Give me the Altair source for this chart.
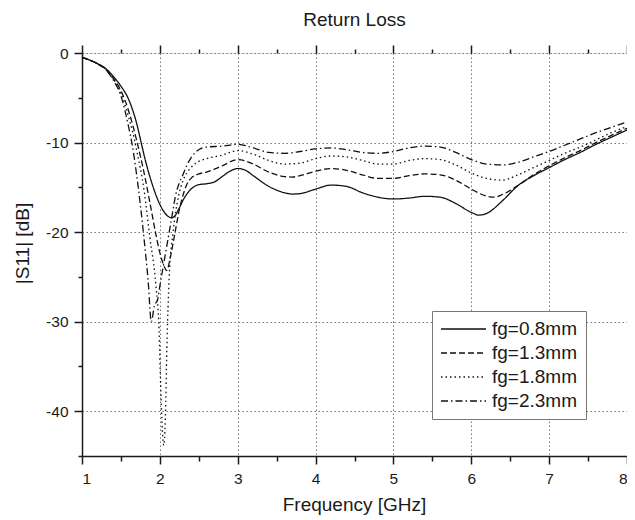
import altair as alt
import pandas as pd

FONT = "Liberation Sans, Arial, Helvetica, sans-serif"

labels = ["fg=0.8mm", "fg=1.3mm", "fg=1.8mm", "fg=2.3mm"]

f_08 = [1.0, 1.1, 1.2, 1.3, 1.4, 1.5, 1.6, 1.7, 1.76, 1.8, 1.9, 2.0, 2.1, 2.15, 2.2, 2.25, 2.3, 2.4, 2.5, 2.6, 2.7, 2.8, 2.9, 3.0, 3.1, 3.2, 3.4, 3.6, 3.7, 3.8, 4.0, 4.2, 4.4, 4.6, 4.8, 5.0, 5.2, 5.4, 5.6, 5.8, 6.0, 6.1, 6.2, 6.4, 6.6, 6.8, 7.0, 7.2, 7.4, 7.6, 7.8, 8.0]
s_08 = [-0.5, -0.8, -1.2, -1.7, -2.6, -3.7, -5.2, -7.8, -10.0, -11.5, -14.6, -16.9, -18.2, -18.4, -18.1, -17.3, -16.4, -15.2, -14.7, -14.6, -14.4, -13.8, -13.2, -12.9, -13.1, -13.7, -14.9, -15.6, -15.75, -15.7, -15.2, -14.75, -14.9, -15.6, -16.1, -16.3, -16.2, -16.0, -16.1, -16.8, -17.8, -18.1, -17.9, -16.5, -14.8, -13.7, -12.8, -11.9, -11.1, -10.2, -9.4, -8.6]

f_13 = [1.0, 1.1, 1.2, 1.3, 1.4, 1.5, 1.6, 1.65, 1.7, 1.8, 1.9, 1.95, 2.0, 2.05, 2.09, 2.13, 2.2, 2.25, 2.3, 2.35, 2.4, 2.5, 2.6, 2.8, 3.0, 3.2, 3.4, 3.6, 3.7, 3.8, 4.0, 4.2, 4.4, 4.6, 4.8, 5.0, 5.2, 5.4, 5.6, 5.8, 6.0, 6.2, 6.3, 6.4, 6.6, 6.8, 7.0, 7.2, 7.4, 7.6, 7.8, 8.0]
s_13 = [-0.5, -0.8, -1.2, -1.8, -2.8, -4.2, -6.5, -8.0, -9.7, -13.5, -18.0, -20.3, -22.3, -23.7, -24.3, -23.0, -19.8, -17.5, -15.8, -14.6, -14.0, -13.5, -13.3, -12.6, -11.9, -12.4, -13.3, -13.8, -13.85, -13.7, -13.2, -12.9, -13.1, -13.6, -14.0, -14.0, -13.7, -13.5, -13.6, -14.2, -15.2, -16.0, -16.1, -15.8, -14.8, -13.6, -12.6, -11.7, -10.9, -10.0, -9.2, -8.4]

f_18 = [1.0, 1.1, 1.2, 1.3, 1.4, 1.5, 1.6, 1.65, 1.7, 1.8, 1.87, 1.95, 1.99, 2.01, 2.04, 2.05, 2.07, 2.09, 2.12, 2.17, 2.24, 2.3, 2.4, 2.5, 2.6, 2.8, 3.0, 3.2, 3.4, 3.6, 3.8, 4.0, 4.2, 4.4, 4.6, 4.8, 5.0, 5.2, 5.4, 5.6, 5.8, 6.0, 6.2, 6.4, 6.6, 6.8, 7.0, 7.2, 7.4, 7.6, 7.8, 8.0]
s_18 = [-0.5, -0.8, -1.2, -1.8, -2.9, -4.5, -7.2, -8.8, -10.8, -15.5, -20.5, -26.0, -31.0, -37.0, -43.2, -43.8, -41.0, -33.0, -25.0, -20.0, -16.0, -14.2, -12.8, -12.1, -11.8, -11.4, -10.9, -11.3, -12.0, -12.4, -12.3, -11.8, -11.5, -11.6, -12.0, -12.4, -12.4, -12.0, -11.8, -11.9, -12.5, -13.4, -14.0, -14.2, -13.6, -12.8, -12.0, -11.2, -10.5, -9.7, -8.9, -8.2]

f_23 = [1.0, 1.1, 1.2, 1.3, 1.4, 1.5, 1.6, 1.65, 1.7, 1.75, 1.8, 1.85, 1.89, 1.93, 1.97, 2.0, 2.05, 2.1, 2.15, 2.2, 2.3, 2.4, 2.5, 2.6, 2.8, 3.0, 3.2, 3.4, 3.6, 3.8, 4.0, 4.2, 4.4, 4.6, 4.8, 5.0, 5.2, 5.4, 5.6, 5.8, 6.0, 6.2, 6.4, 6.6, 6.8, 7.0, 7.2, 7.4, 7.6, 7.8, 8.0]
s_23 = [-0.5, -0.8, -1.2, -1.8, -3.0, -4.8, -8.3, -10.5, -13.5, -17.0, -21.0, -25.5, -30.0, -28.2, -27.6, -26.0, -23.5, -21.0, -18.5, -16.0, -13.5, -11.7, -10.8, -10.5, -10.4, -10.2, -10.6, -11.1, -11.2, -11.0, -10.7, -10.6, -10.8, -11.1, -11.2, -11.0, -10.6, -10.4, -10.5, -11.1, -11.9, -12.4, -12.5, -12.2, -11.6, -11.0, -10.3, -9.6, -8.9, -8.3, -7.7]

x_major = [1, 2, 3, 4, 5, 6, 7, 8]
x_minor = [1.5, 2.5, 3.5, 4.5, 5.5, 6.5, 7.5]
y_major = [0, -10, -20, -30, -40]
y_minor = [-5, -15, -25, -35, -45]

rows = []
for lab, fs, ss in zip(labels, [f_08, f_13, f_18, f_23], [s_08, s_13, s_18, s_23]):
    for a, b in zip(fs, ss):
        rows.append({"series": lab, "f": a, "db": b})
df = pd.DataFrame(rows)

xs = alt.Scale(domain=[1, 8], nice=False, zero=False)
ys = alt.Scale(domain=[-45, 0], nice=False, zero=False)

common_axis = dict(labelFont=FONT, titleFont=FONT, labelColor="#1a1a1a", titleColor="#1a1a1a",
                   tickColor="#1a1a1a", domainColor="#1a1a1a", tickWidth=1.5, domainWidth=1.5)

x_main = alt.Axis(values=x_major, tickSize=8, labelPadding=7, labelFontSize=15.5,
                  grid=True, gridDash=[1.5, 2.5], gridColor="#777777", gridWidth=1,
                  title="Frequency [GHz]", titleFontSize=19, titleFontWeight="normal",
                  titleX=272, titleY=48, titleBaseline="middle", orient="bottom", **common_axis)
y_main = alt.Axis(values=y_major, tickSize=8, labelPadding=6, labelFontSize=15.5,
                  labelExpr="'' + datum.value",
                  grid=True, gridDash=[1.5, 2.5], gridColor="#777777", gridWidth=1,
                  title="|S11| [dB]", titleFontSize=19, titleFontWeight="normal",
                  titleX=-60, titleY=190, titleAngle=270, titleBaseline="middle", orient="left", **common_axis)

lines = alt.Chart(df).mark_line(color="#111111", strokeWidth=1.3, interpolate="monotone").encode(
    x=alt.X("f:Q", scale=xs, axis=x_main),
    y=alt.Y("db:Q", scale=ys, axis=y_main),
    strokeDash=alt.StrokeDash(
        "series:N",
        scale=alt.Scale(domain=labels, range=[[1, 0], [6, 3], [1.5, 3], [7, 3, 1.5, 3]]),
        legend=alt.Legend(orient="none", legendX=350, legendY=258, title=None,
                          labelFont=FONT, labelFontSize=19, labelColor="#1a1a1a",
                          symbolType="stroke", symbolSize=2025, symbolStrokeWidth=1.3,
                          symbolStrokeColor="#111111", clipHeight=20, rowPadding=4,
                          padding=8, labelOffset=5, strokeColor="#777777", fillColor="white"),
    ),
)

def ghost(xaxis, yaxis):
    return alt.Chart(df).mark_line(opacity=0).encode(
        x=alt.X("f:Q", scale=xs, axis=xaxis),
        y=alt.Y("db:Q", scale=ys, axis=yaxis),
        detail="series:N",
    )

minor_bl = ghost(
    alt.Axis(orient="bottom", values=x_minor, tickSize=5, labels=False, grid=False, domain=False, title=None,
             tickColor="#1a1a1a", tickWidth=1.5),
    alt.Axis(orient="left", values=y_minor, tickSize=4, labels=False, grid=False, domain=False, title=None,
             tickColor="#1a1a1a", tickWidth=1.5),
)
top_major = ghost(
    alt.Axis(orient="top", values=x_major, tickSize=8, labels=False, grid=False, domain=False, title=None,
             tickColor="#1a1a1a", tickWidth=1.5),
    None,
)
top_minor = ghost(
    alt.Axis(orient="top", values=x_minor, tickSize=4, labels=False, grid=False, domain=False, title=None,
             tickColor="#1a1a1a", tickWidth=1.5),
    None,
)

chart = alt.layer(lines, minor_bl, top_major, top_minor).resolve_axis(
    x="independent", y="independent"
).properties(
    width=545, height=403,
    padding={"left": 74, "top": 45, "right": 0, "bottom": 60},
    autosize=alt.AutoSizeParams(type="none"),
    title=alt.TitleParams("Return Loss", font=FONT, fontSize=19, fontWeight="normal",
                          color="#1a1a1a", anchor="middle", offset=14),
).configure_view(stroke="#1a1a1a", strokeWidth=1.5).configure(background="white")

chart.save("out.html", embed_options={"renderer": "svg", "actions": False})
